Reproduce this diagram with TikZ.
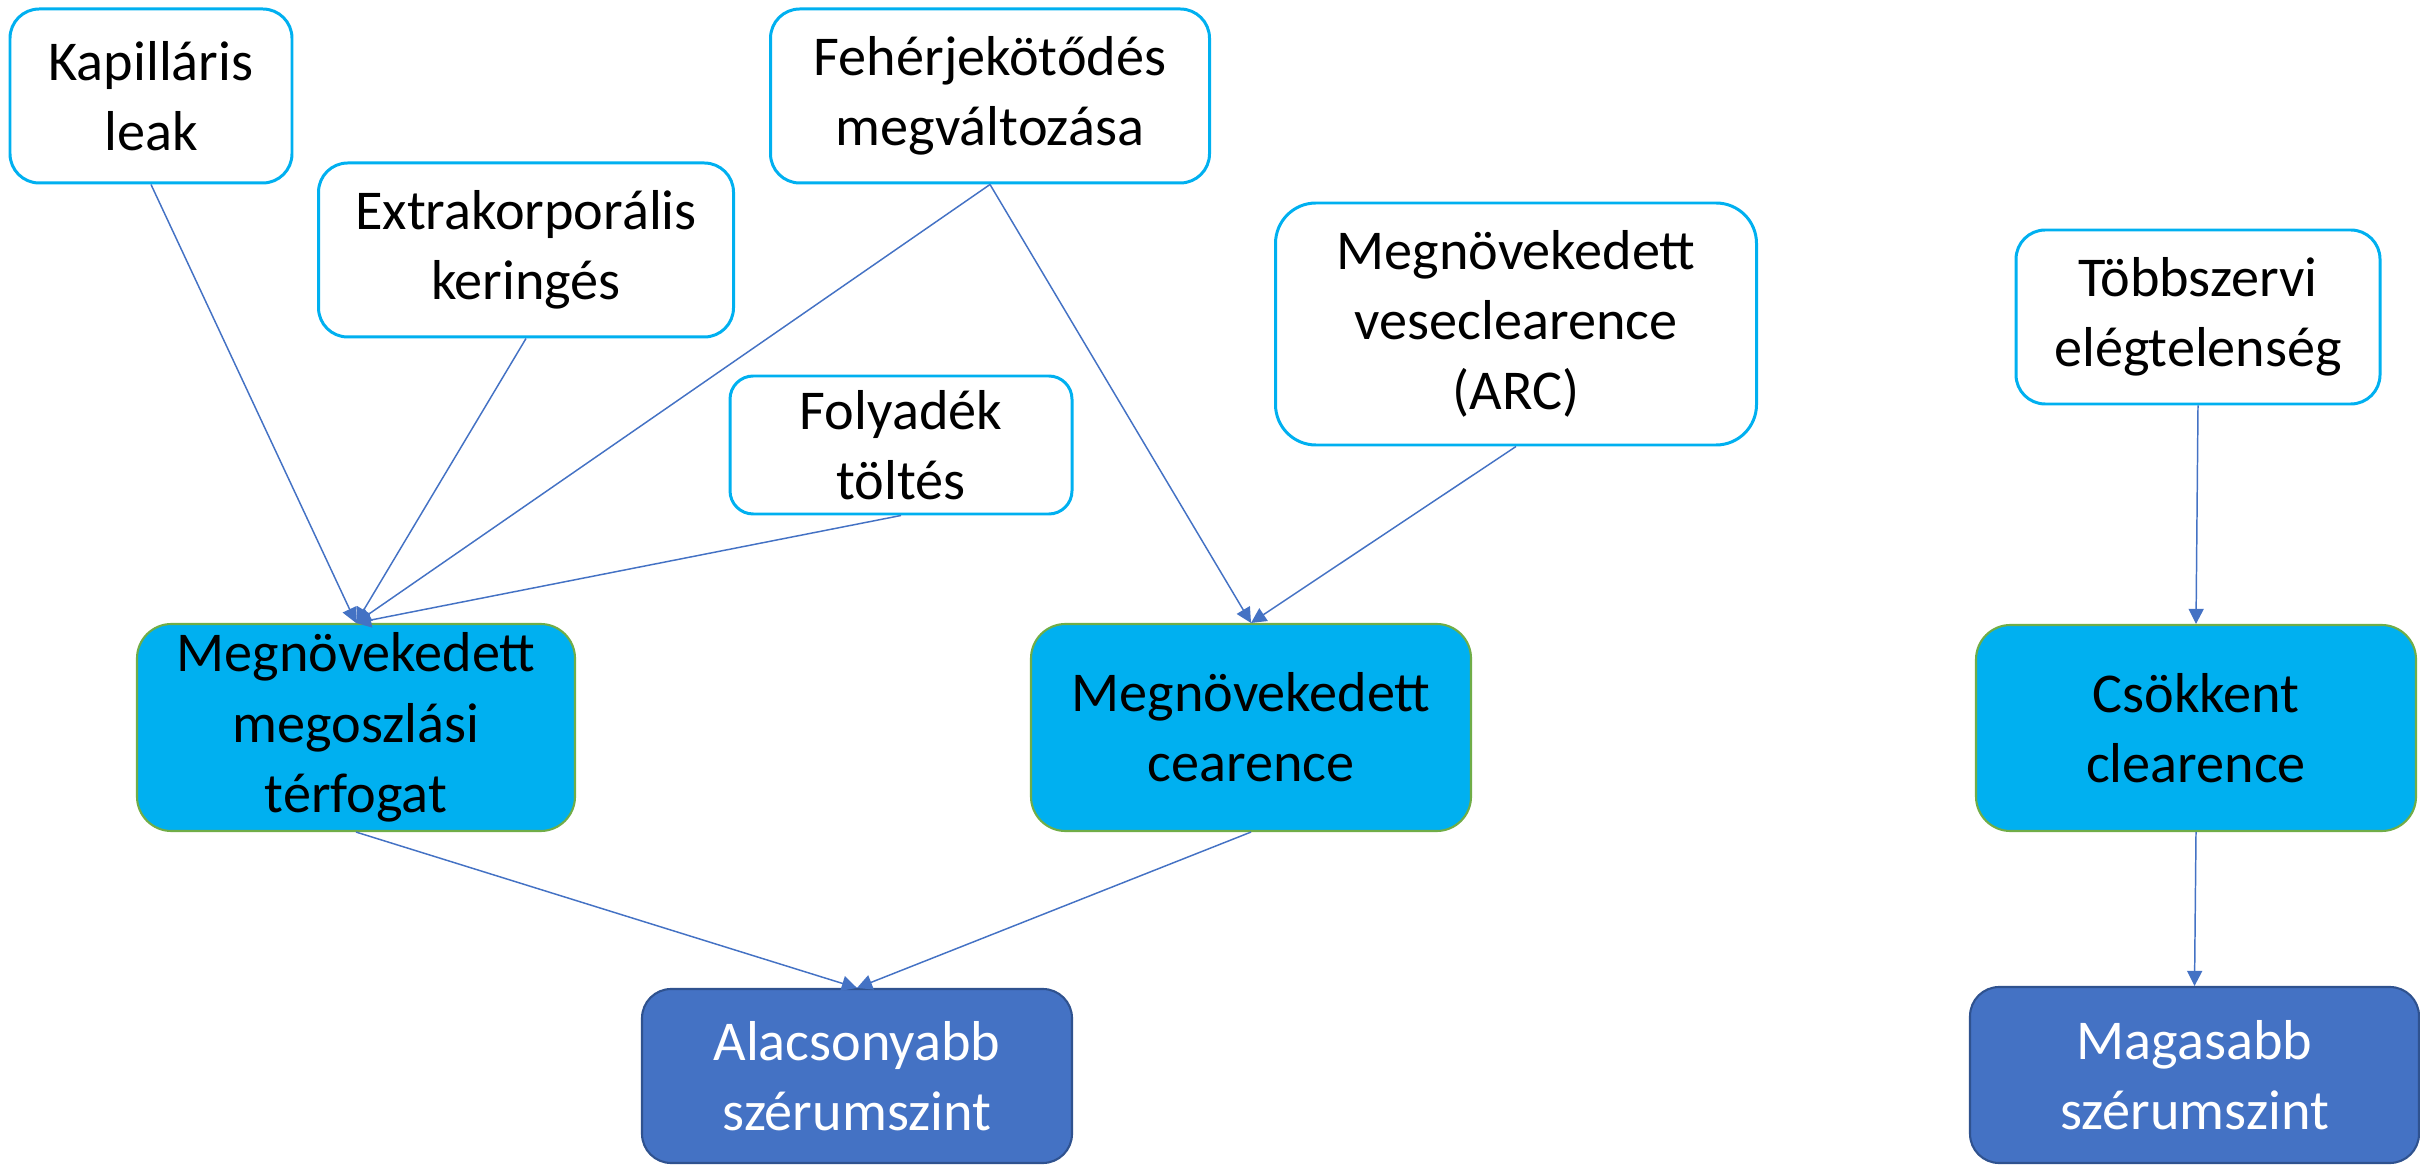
\documentclass[tikz,border=0pt]{standalone}
\usepackage{fontspec}
\setmainfont{Carlito}
\usetikzlibrary{arrows.meta}
\definecolor{cyanline}{HTML}{00B0F0}
\definecolor{leafgreen}{HTML}{70AD47}
\definecolor{arrowblue}{HTML}{4472C4}
\definecolor{darkedge}{HTML}{2F528F}
\tikzset{
  box/.style={align=center, inner sep=0pt, font=\fontsize{16}{20}\selectfont},
  cause/.style={box, draw=cyanline, fill=white, line width=0.85pt},
  effect/.style={box, draw=leafgreen, fill=cyanline, line width=0.6pt},
  outcome/.style={box, draw=darkedge, fill=arrowblue, line width=0.6pt, text=white},
  link/.style={draw=arrowblue, line width=0.42pt, -{Triangle[length=4.3pt,width=4.3pt]}}
}
\begin{document}
\begin{tikzpicture}[x=0.1mm,y=-0.1mm]
\useasboundingbox (0,0) rectangle (2420,1166);

% causes
\node[cause, minimum width=28.2mm, minimum height=17.4mm, rounded corners=8.3pt] (kap) at (151,96) {Kapilláris\\leak};
\node[cause, minimum width=41.5mm, minimum height=17.4mm, rounded corners=8.3pt] (ext) at (526,250) {Extrakorporális\\keringés};
\node[cause, minimum width=43.9mm, minimum height=17.4mm, rounded corners=8.3pt] (feh) at (990,96) {Fehérjekötődés\\megváltozása};
\node[cause, minimum width=34.2mm, minimum height=13.8mm, rounded corners=6.6pt] (fol) at (901,445) {Folyadék\\töltés};
\node[cause, minimum width=48.1mm, minimum height=24.2mm, rounded corners=11.5pt] (arc) at (1516,324) {Megnövekedett\\veseclearence\\(ARC)};
\node[cause, minimum width=36.4mm, minimum height=17.4mm, rounded corners=8.3pt] (tob) at (2198,317) {Többszervi\\elégtelenség};

% intermediate effects
\node[effect, minimum width=43.8mm, minimum height=20.7mm, rounded corners=9.8pt] (vd) at (356,727.5) {Megnövekedett\\megoszlási\\térfogat};
\node[effect, minimum width=44.0mm, minimum height=20.7mm, rounded corners=9.8pt] (cl) at (1251,727.5) {Megnövekedett\\cearence};
\node[effect, minimum width=44.0mm, minimum height=20.6mm, rounded corners=9.8pt] (csk) at (2196,728) {Csökkent\\clearence};

% outcomes
\node[outcome, minimum width=43.0mm, minimum height=17.4mm, rounded corners=8.3pt] (low) at (857,1076) {Alacsonyabb\\szérumszint};
\node[outcome, minimum width=44.9mm, minimum height=17.6mm, rounded corners=8.3pt] (high) at (2194.5,1075) {Magasabb\\szérumszint};

% connectors
\draw[link] (kap.south) -- (vd.north);
\draw[link] (ext.south) -- (vd.north);
\draw[link] (feh.south) -- (vd.north);
\draw[link] (fol.south) -- (vd.north);
\draw[link] (feh.south) -- (cl.north);
\draw[link] (arc.south) -- (cl.north);
\draw[link] (tob.south) -- (csk.north);
\draw[link] (vd.south) -- (low.north);
\draw[link] (cl.south) -- (low.north);
\draw[link] (csk.south) -- (high.north);
\end{tikzpicture}
\end{document}
